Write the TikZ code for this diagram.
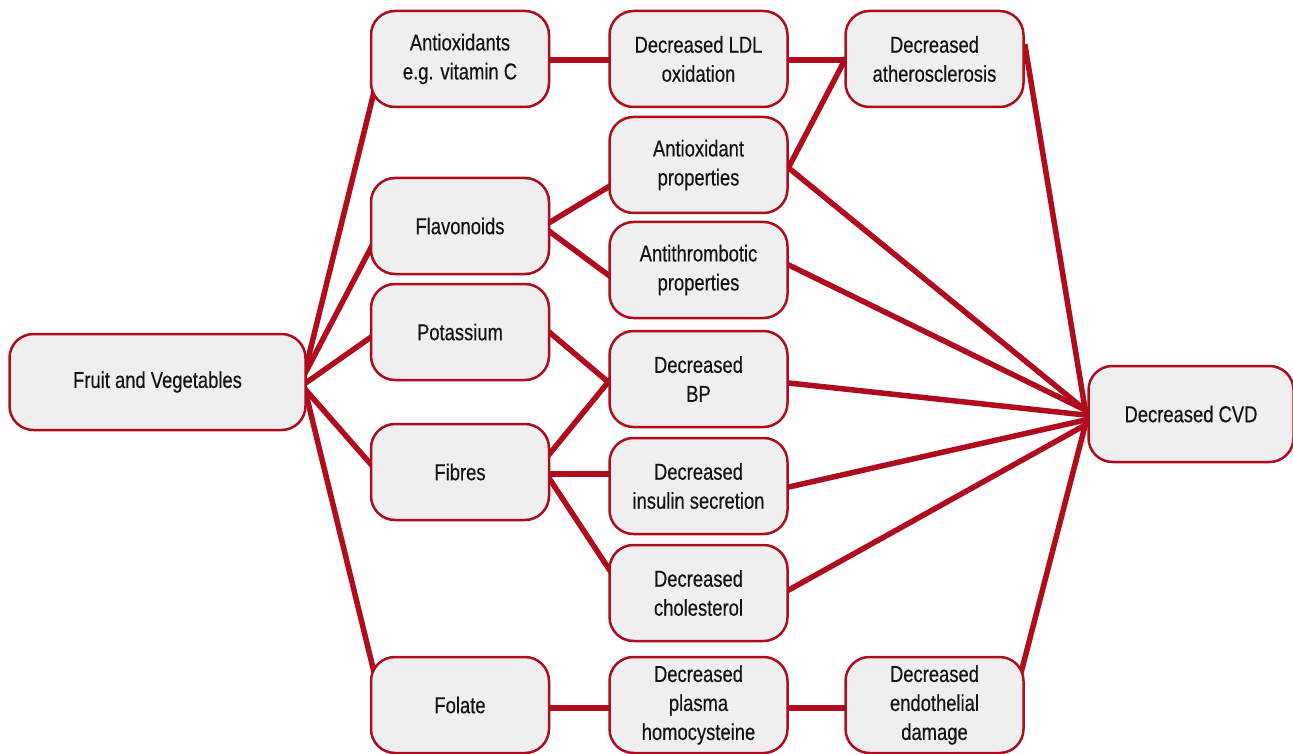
\documentclass[tikz,border=0pt]{standalone}
\usepackage{fontspec}
\setmainfont{Liberation Sans}[FakeStretch=0.8,FakeBold=0.4]
\usetikzlibrary{backgrounds}
\definecolor{cvdred}{RGB}{176,12,30}
\definecolor{boxfill}{RGB}{239,239,239}
\definecolor{txt}{RGB}{20,20,20}
\begin{document}
\begin{tikzpicture}[x=1pt,y=-1pt,
  box/.style={draw=cvdred, line width=2.5pt, fill=boxfill, rounded corners=24pt,
    minimum width=178pt, minimum height=96pt, align=center, text=txt,
    font=\fontsize{23}{29}\selectfont, inner sep=0pt},
  link/.style={draw=cvdred, line width=5.5pt, shorten <=-6pt, shorten >=-6pt}]
\useasboundingbox (0,0) rectangle (1293,754);

\node[box, minimum width=296pt] (fv) at (157.5,382) {Fruit and Vegetables};
\node[box] (ax) at (460,59) {Antioxidants\\e.g. vitamin C};
\node[box] (fl) at (460,226) {Flavonoids};
\node[box] (po) at (460,332) {Potassium};
\node[box] (fi) at (460,472) {Fibres};
\node[box] (fo) at (460,705) {Folate};
\node[box] (ldl) at (698.5,59) {Decreased LDL\\oxidation};
\node[box] (ap) at (698.5,165) {Antioxidant\\properties};
\node[box] (at) at (698.5,270) {Antithrombotic\\properties};
\node[box] (bp) at (698.5,379) {Decreased\\BP};
\node[box] (ins) at (698.5,486) {Decreased\\insulin secretion};
\node[box] (ch) at (698.5,593) {Decreased\\cholesterol};
\node[box] (pl) at (698.5,705) {Decreased\\plasma\\homocysteine};
\node[box] (ath) at (934.5,59) {Decreased\\atherosclerosis};
\node[box] (end) at (934.5,705) {Decreased\\endothelial\\damage};
\node[box, minimum width=205pt] (cvd) at (1191,414) {Decreased CVD};

\begin{pgfonlayer}{background}
\draw[link] ([shift={(-1,-14)}]fv.east) -- ([shift={(3,38)}]ax.west);
\draw[link] ([shift={(-1,-10)}]fv.east) -- ([shift={(0,24)}]fl.west);
\draw[link] ([shift={(-1,1)}]fv.east) -- ([shift={(0,6)}]po.west);
\draw[link] ([shift={(-1,8)}]fv.east) -- ([shift={(0,-9)}]fi.west);
\draw[link] ([shift={(-1,11)}]fv.east) -- ([shift={(3,-38)}]fo.west);

\draw[link] ([shift={(0,1)}]ax.east) -- ([shift={(0,1)}]ldl.west);
\draw[link] ([shift={(0,1)}]ldl.east) -- ([shift={(0,1)}]ath.west);
\draw[link] ([shift={(0,-4)}]fl.east) -- ([shift={(0,22)}]ap.west);
\draw[link] ([shift={(0,6)}]fl.east) -- ([shift={(0,5)}]at.west);
\draw[link] ([shift={(0,1)}]po.east) -- ([shift={(0,3)}]bp.west);
\draw[link] ([shift={(0,-19)}]fi.east) -- ([shift={(0,3)}]bp.west);
\draw[link] ([shift={(0,2)}]fi.east) -- ([shift={(0,-12)}]ins.west);
\draw[link] ([shift={(0,8)}]fi.east) -- ([shift={(0,-25)}]ch.west);
\draw[link] ([shift={(0,3)}]fo.east) -- ([shift={(0,3)}]pl.west);
\draw[link] ([shift={(0,3)}]pl.east) -- ([shift={(0,3)}]end.west);

\draw[link] ([shift={(0,2)}]ap.east) -- ([shift={(-1,4)}]ath.west);
\draw[link] ([shift={(0,3)}]ap.east) -- ([shift={(-2,-4)}]cvd.west);
\draw[link] ([shift={(0,-5)}]at.east) -- ([shift={(-2,-4)}]cvd.west);
\draw[link] ([shift={(0,4)}]bp.east) -- ([shift={(-2,1)}]cvd.west);
\draw[link] ([shift={(0,1)}]ins.east) -- ([shift={(-2,6)}]cvd.west);
\draw[link] ([shift={(0,-3)}]ch.east) -- ([shift={(-2,11)}]cvd.west);
\draw[link] ([shift={(1,-9)}]ath.east) -- ([shift={(-2,-4)}]cvd.west);
\draw[link] ([shift={(-3,-35)}]end.east) -- ([shift={(-2,11)}]cvd.west);
\end{pgfonlayer}
\end{tikzpicture}
\end{document}
